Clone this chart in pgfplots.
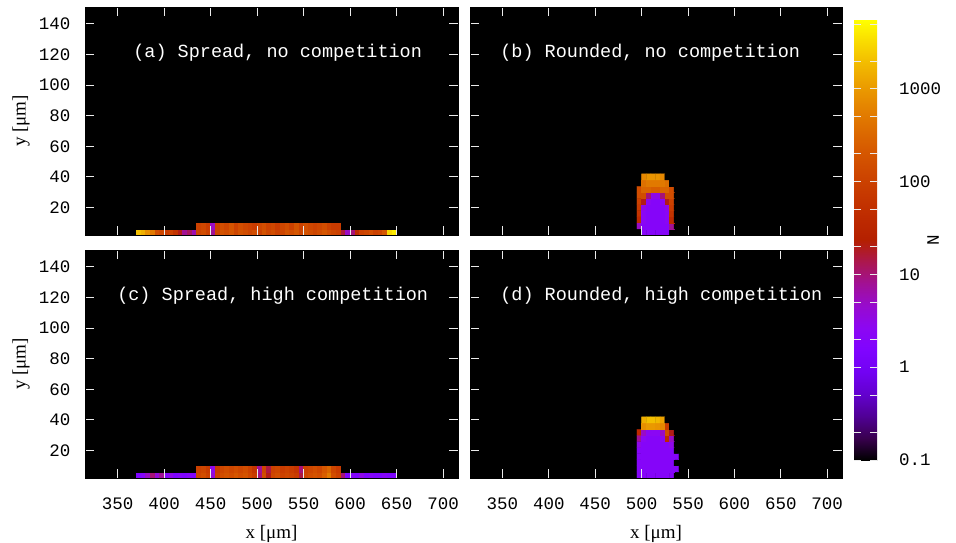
\documentclass[border=0pt]{standalone}
\usepackage{fontspec}
\setmainfont{Liberation Mono}
\newfontfamily\seriffont{Liberation Serif}
\usepackage{pgfplots}
\pgfplotsset{compat=1.18}
\tikzset{ttl/.style={anchor=west, text=white, font=\fontsize{18.5}{22}\selectfont, inner sep=0pt}}
\pgfplotsset{
  colormap={gp}{rgb=(0,0,0) rgb=(0.224,0,0.309) rgb=(0.316,0.001,0.588) rgb=(0.387,0.003,0.809) rgb=(0.447,0.008,0.951) rgb=(0.5,0.016,1) rgb=(0.548,0.027,0.951) rgb=(0.592,0.043,0.809) rgb=(0.632,0.064,0.588) rgb=(0.671,0.091,0.309) rgb=(0.707,0.125,0) rgb=(0.742,0.166,0) rgb=(0.775,0.216,0) rgb=(0.806,0.275,0) rgb=(0.837,0.343,0) rgb=(0.866,0.422,0) rgb=(0.894,0.512,0) rgb=(0.922,0.614,0) rgb=(0.949,0.729,0) rgb=(0.975,0.857,0) rgb=(1,1,0)},
  panel/.style={
    scale only axis, anchor=north west,
    width=373pt, height=228pt,
    xmin=315, xmax=716, ymin=2, ymax=151,
    xtick={350,400,...,700}, ytick={20,40,...,140},
    axis background/.style={fill=black},
    axis line style={black},
    axis on top=true,
    tick align=inside, major tick length=9pt,
    tick style={white!92!black, line width=1pt},
    point meta min=-1, point meta max=3.742,
    tick label style={font=\fontsize{17.5}{20}\selectfont},
    xticklabel style={yshift=-16pt},
    yticklabel style={xshift=-11pt},
    /pgf/number format/assume math mode=true,
    /pgf/number format/1000 sep={},
    xlabel style={at={(rel axis cs:0.5,-0.245)}, anchor=center, font=\seriffont\fontsize{19}{22}\selectfont},
    ylabel style={at={(rel axis cs:-0.1716,0.5)}, anchor=center, font=\seriffont\fontsize{19}{22}\selectfont},
  },
  hm/.style={matrix plot*, point meta={ln(\thisrow{N})/ln(10)}, mesh/ordering=x varies},
}
\begin{document}
\begin{tikzpicture}
\useasboundingbox (0pt,0pt) rectangle (956pt,-542pt);

% (a)
\begin{axis}[panel, at={(85pt,-7pt)}, xticklabels={}, ylabel={y [μm]}]
\addplot[hm, mesh/cols=58] table[row sep=\\] {
x y N\\
367.5 4 0.1\\ 372.5 4 2000\\ 377.5 4 1500\\ 382.5 4 800\\ 387.5 4 500\\ 392.5 4 150\\ 397.5 4 120\\ 402.5 4 80\\ 407.5 4 100\\ 412.5 4 60\\
417.5 4 20\\ 422.5 4 8\\ 427.5 4 12\\ 432.5 4 6\\ 437.5 4 120\\ 442.5 4 150\\ 447.5 4 100\\ 452.5 4 8\\ 457.5 4 120\\ 462.5 4 180\\
467.5 4 150\\ 472.5 4 200\\ 477.5 4 120\\ 482.5 4 180\\ 487.5 4 150\\ 492.5 4 120\\ 497.5 4 150\\ 502.5 4 100\\ 507.5 4 180\\ 512.5 4 120\\
517.5 4 150\\ 522.5 4 100\\ 527.5 4 120\\ 532.5 4 180\\ 537.5 4 150\\ 542.5 4 200\\ 547.5 4 120\\ 552.5 4 180\\ 557.5 4 150\\ 562.5 4 120\\
567.5 4 150\\ 572.5 4 200\\ 577.5 4 150\\ 582.5 4 120\\ 587.5 4 100\\ 592.5 4 15\\ 597.5 4 5\\ 602.5 4 10\\ 607.5 4 40\\ 612.5 4 100\\
617.5 4 120\\ 622.5 4 150\\ 627.5 4 100\\ 632.5 4 120\\ 637.5 4 200\\ 642.5 4 3000\\ 647.5 4 4000\\ 652.5 4 0.1\\
367.5 8 0.1\\ 372.5 8 0.1\\ 377.5 8 0.1\\ 382.5 8 0.1\\ 387.5 8 0.1\\ 392.5 8 0.1\\ 397.5 8 0.1\\ 402.5 8 0.1\\ 407.5 8 0.1\\ 412.5 8 0.1\\
417.5 8 0.1\\ 422.5 8 0.1\\ 427.5 8 0.1\\ 432.5 8 0.1\\ 437.5 8 100\\ 442.5 8 120\\ 447.5 8 80\\ 452.5 8 5\\ 457.5 8 100\\ 462.5 8 150\\
467.5 8 120\\ 472.5 8 180\\ 477.5 8 100\\ 482.5 8 150\\ 487.5 8 120\\ 492.5 8 100\\ 497.5 8 80\\ 502.5 8 120\\ 507.5 8 150\\ 512.5 8 100\\
517.5 8 120\\ 522.5 8 80\\ 527.5 8 120\\ 532.5 8 150\\ 537.5 8 100\\ 542.5 8 180\\ 547.5 8 100\\ 552.5 8 150\\ 557.5 8 120\\ 562.5 8 100\\
567.5 8 120\\ 572.5 8 150\\ 577.5 8 100\\ 582.5 8 80\\ 587.5 8 80\\ 592.5 8 0.1\\ 597.5 8 0.1\\ 602.5 8 0.1\\ 607.5 8 0.1\\ 612.5 8 0.1\\
617.5 8 0.1\\ 622.5 8 0.1\\ 627.5 8 0.1\\ 632.5 8 0.1\\ 637.5 8 0.1\\ 642.5 8 0.1\\ 647.5 8 0.1\\ 652.5 8 0.1\\
};
\node[ttl] at (rel axis cs:0.129,0.798) {(a) Spread, no competition};
\end{axis}

% (b)
\begin{axis}[panel, at={(470pt,-7pt)}, width=372pt, xticklabels={}, yticklabels={},
  colorbar,
  colorbar/width=23pt,
  colorbar shift/.style={xshift=12pt,yshift=-13pt},
  colorbar style={
    at={(parent axis.north east)}, anchor=north west,
    width=23pt, height=440pt,
    ytick={-1,0,1,2,3}, yticklabels={0.1,1,10,100,1000},
    minor ytick={-0.699,-0.301,0.301,0.699,1.301,1.699,2.301,2.699,3.301,3.699},
    ytick pos=both, yticklabel pos=right,
    tick align=inside, major tick length=7pt, minor tick length=7pt,
    tick style={white!92!black, line width=0.8pt},
    axis line style={draw=none},
    yticklabel style={anchor=west, inner sep=0pt, xshift=22pt, font=\fontsize{17.5}{20}\selectfont},
    ylabel={N},
    ylabel style={at={(rel axis cs:3.435,0.5)}, anchor=center, font=\fontsize{17.5}{20}\selectfont},
  }]
\addplot[hm, mesh/cols=9] table[row sep=\\] {
x y N\\
497.5 4 0.1\\ 502.5 4 2\\ 507.5 4 2\\ 512.5 4 2\\ 517.5 4 2\\ 522.5 4 2\\ 527.5 4 2\\ 532.5 4 0.1\\ 537.5 4 0.1\\
497.5 8 5\\ 502.5 8 2\\ 507.5 8 2\\ 512.5 8 2\\ 517.5 8 2\\ 522.5 8 2\\ 527.5 8 2\\ 532.5 8 8\\ 537.5 8 0.1\\
497.5 12 40\\ 502.5 12 2.5\\ 507.5 12 2\\ 512.5 12 2\\ 517.5 12 2\\ 522.5 12 2\\ 527.5 12 2.5\\ 532.5 12 40\\ 537.5 12 0.1\\
497.5 16 60\\ 502.5 16 2.5\\ 507.5 16 2\\ 512.5 16 2\\ 517.5 16 2\\ 522.5 16 2\\ 527.5 16 2.5\\ 532.5 16 60\\ 537.5 16 0.1\\
497.5 20 80\\ 502.5 20 3\\ 507.5 20 2\\ 512.5 20 2\\ 517.5 20 2\\ 522.5 20 2\\ 527.5 20 3\\ 532.5 20 80\\ 537.5 20 0.1\\
497.5 24 100\\ 502.5 24 20\\ 507.5 24 2.5\\ 512.5 24 2\\ 517.5 24 2\\ 522.5 24 2.5\\ 527.5 24 20\\ 532.5 24 100\\ 537.5 24 0.1\\
497.5 28 150\\ 502.5 28 150\\ 507.5 28 10\\ 512.5 28 3\\ 517.5 28 3\\ 522.5 28 10\\ 527.5 28 150\\ 532.5 28 150\\ 537.5 28 0.1\\
497.5 32 150\\ 502.5 32 300\\ 507.5 32 300\\ 512.5 32 250\\ 517.5 32 250\\ 522.5 32 300\\ 527.5 32 300\\ 532.5 32 150\\ 537.5 32 0.1\\
497.5 36 0.1\\ 502.5 36 400\\ 507.5 36 500\\ 512.5 36 500\\ 517.5 36 500\\ 522.5 36 500\\ 527.5 36 400\\ 532.5 36 0.1\\ 537.5 36 0.1\\
497.5 40 0.1\\ 502.5 40 700\\ 507.5 40 900\\ 512.5 40 900\\ 517.5 40 900\\ 522.5 40 700\\ 527.5 40 0.1\\ 532.5 40 0.1\\ 537.5 40 0.1\\
};
\node[ttl] at (rel axis cs:0.081,0.798) {(b) Rounded, no competition};
\end{axis}

% (c)
\begin{axis}[panel, at={(85pt,-250pt)}, ylabel={y [μm]}, xlabel={x [μm]}]
\addplot[hm, mesh/cols=58] table[row sep=\\] {
x y N\\
367.5 4 0.1\\ 372.5 4 1.5\\ 377.5 4 2\\ 382.5 4 5\\ 387.5 4 10\\ 392.5 4 4\\ 397.5 4 8\\ 402.5 4 2\\ 407.5 4 3\\ 412.5 4 1.5\\
417.5 4 2\\ 422.5 4 1.5\\ 427.5 4 2\\ 432.5 4 1.5\\ 437.5 4 120\\ 442.5 4 150\\ 447.5 4 100\\ 452.5 4 4\\ 457.5 4 100\\ 462.5 4 150\\
467.5 4 180\\ 472.5 4 150\\ 477.5 4 200\\ 482.5 4 150\\ 487.5 4 180\\ 492.5 4 120\\ 497.5 4 80\\ 502.5 4 10\\ 507.5 4 150\\ 512.5 4 20\\
517.5 4 120\\ 522.5 4 150\\ 527.5 4 100\\ 532.5 4 120\\ 537.5 4 100\\ 542.5 4 80\\ 547.5 4 15\\ 552.5 4 120\\ 557.5 4 150\\ 562.5 4 180\\
567.5 4 150\\ 572.5 4 250\\ 577.5 4 500\\ 582.5 4 150\\ 587.5 4 100\\ 592.5 4 10\\ 597.5 4 1.5\\ 602.5 4 2\\ 607.5 4 1.5\\ 612.5 4 3\\
617.5 4 1.5\\ 622.5 4 2\\ 627.5 4 1.5\\ 632.5 4 1.5\\ 637.5 4 2\\ 642.5 4 1.5\\ 647.5 4 1.5\\ 652.5 4 0.1\\
367.5 8 0.1\\ 372.5 8 0.1\\ 377.5 8 0.1\\ 382.5 8 0.1\\ 387.5 8 0.1\\ 392.5 8 0.1\\ 397.5 8 0.1\\ 402.5 8 0.1\\ 407.5 8 0.1\\ 412.5 8 0.1\\
417.5 8 0.1\\ 422.5 8 0.1\\ 427.5 8 0.1\\ 432.5 8 0.1\\ 437.5 8 100\\ 442.5 8 120\\ 447.5 8 80\\ 452.5 8 3\\ 457.5 8 80\\ 462.5 8 120\\
467.5 8 150\\ 472.5 8 120\\ 477.5 8 150\\ 482.5 8 120\\ 487.5 8 150\\ 492.5 8 100\\ 497.5 8 60\\ 502.5 8 8\\ 507.5 8 120\\ 512.5 8 15\\
517.5 8 100\\ 522.5 8 120\\ 527.5 8 80\\ 532.5 8 100\\ 537.5 8 80\\ 542.5 8 60\\ 547.5 8 10\\ 552.5 8 100\\ 557.5 8 120\\ 562.5 8 150\\
567.5 8 120\\ 572.5 8 200\\ 577.5 8 300\\ 582.5 8 120\\ 587.5 8 80\\ 592.5 8 0.1\\ 597.5 8 0.1\\ 602.5 8 0.1\\ 607.5 8 0.1\\ 612.5 8 0.1\\
617.5 8 0.1\\ 622.5 8 0.1\\ 627.5 8 0.1\\ 632.5 8 0.1\\ 637.5 8 0.1\\ 642.5 8 0.1\\ 647.5 8 0.1\\ 652.5 8 0.1\\
};
\node[ttl] at (rel axis cs:0.086,0.798) {(c) Spread, high competition};
\end{axis}

% (d)
\begin{axis}[panel, at={(470pt,-250pt)}, width=372pt, yticklabels={}, xlabel={x [μm]}]
\addplot[hm, mesh/cols=9] table[row sep=\\] {
x y N\\
497.5 4 2\\ 502.5 4 2\\ 507.5 4 2\\ 512.5 4 2\\ 517.5 4 2\\ 522.5 4 2\\ 527.5 4 2\\ 532.5 4 2\\ 537.5 4 0.1\\
497.5 8 2\\ 502.5 8 2\\ 507.5 8 2\\ 512.5 8 2\\ 517.5 8 2\\ 522.5 8 2\\ 527.5 8 2\\ 532.5 8 2\\ 537.5 8 2\\
497.5 12 2\\ 502.5 12 2\\ 507.5 12 2\\ 512.5 12 2\\ 517.5 12 2\\ 522.5 12 2\\ 527.5 12 2\\ 532.5 12 2\\ 537.5 12 0.1\\
497.5 16 2\\ 502.5 16 2\\ 507.5 16 2\\ 512.5 16 2\\ 517.5 16 2\\ 522.5 16 2\\ 527.5 16 2\\ 532.5 16 2\\ 537.5 16 2\\
497.5 20 2\\ 502.5 20 2\\ 507.5 20 2\\ 512.5 20 2\\ 517.5 20 2\\ 522.5 20 2\\ 527.5 20 2\\ 532.5 20 2\\ 537.5 20 0.1\\
497.5 24 3\\ 502.5 24 2\\ 507.5 24 2\\ 512.5 24 2\\ 517.5 24 2\\ 522.5 24 2\\ 527.5 24 2\\ 532.5 24 3\\ 537.5 24 0.1\\
497.5 28 8\\ 502.5 28 2.5\\ 507.5 28 2\\ 512.5 28 2\\ 517.5 28 2\\ 522.5 28 2.5\\ 527.5 28 40\\ 532.5 28 5\\ 537.5 28 0.1\\
497.5 32 40\\ 502.5 32 5\\ 507.5 32 2.5\\ 512.5 32 2.5\\ 517.5 32 2.5\\ 522.5 32 5\\ 527.5 32 150\\ 532.5 32 20\\ 537.5 32 0.1\\
497.5 36 0.1\\ 502.5 36 800\\ 507.5 36 1000\\ 512.5 36 1000\\ 517.5 36 900\\ 522.5 36 700\\ 527.5 36 80\\ 532.5 36 0.1\\ 537.5 36 0.1\\
497.5 40 0.1\\ 502.5 40 1500\\ 507.5 40 2000\\ 512.5 40 2000\\ 517.5 40 1800\\ 522.5 40 1200\\ 527.5 40 0.1\\ 532.5 40 0.1\\ 537.5 40 0.1\\
};
\node[ttl] at (rel axis cs:0.081,0.798) {(d) Rounded, high competition};
\end{axis}
\end{tikzpicture}
\end{document}
